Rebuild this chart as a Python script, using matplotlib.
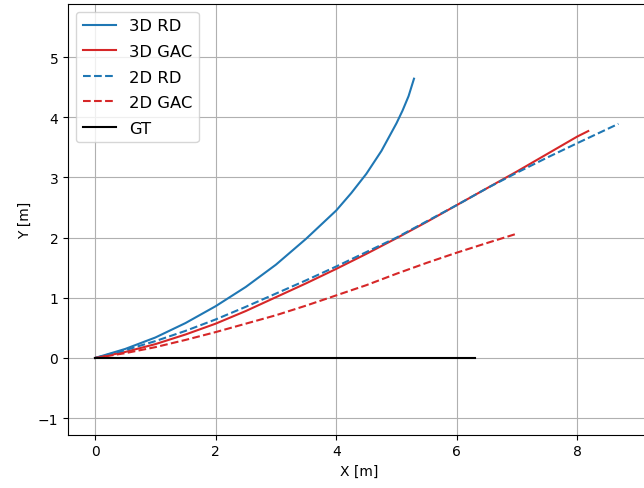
import matplotlib
matplotlib.use("Agg")
import matplotlib.pyplot as plt

# trajectories (x, y in metres)
rd3d_x = [0, 0.5, 1.0, 1.5, 2.0, 2.5, 3.0, 3.5, 4.0, 4.25, 4.5, 4.75, 5.0, 5.1, 5.2, 5.29]
rd3d_y = [0, 0.15, 0.34, 0.58, 0.86, 1.18, 1.55, 1.98, 2.45, 2.74, 3.06, 3.44, 3.90, 4.11, 4.35, 4.64]

gac3d_x = [0, 0.5, 1.0, 1.5, 2.0, 2.5, 3.0, 3.5, 4.0, 4.5, 5.0, 5.5, 6.0, 6.5, 7.0, 7.5, 8.0, 8.18]
gac3d_y = [0, 0.10, 0.23, 0.39, 0.57, 0.78, 1.01, 1.24, 1.48, 1.73, 1.99, 2.26, 2.54, 2.82, 3.10, 3.39, 3.68, 3.77]

rd2d_x = [0, 0.5, 1.0, 1.5, 2.0, 2.5, 3.0, 3.5, 4.0, 4.5, 5.0, 5.5, 6.0, 6.5, 7.0, 7.5, 8.0, 8.68]
rd2d_y = [0, 0.13, 0.28, 0.45, 0.64, 0.85, 1.07, 1.29, 1.52, 1.76, 2.00, 2.27, 2.54, 2.82, 3.08, 3.33, 3.57, 3.89]

gac2d_x = [0, 0.5, 1.0, 1.5, 2.0, 2.5, 3.0, 3.5, 4.0, 4.5, 5.0, 5.5, 6.0, 6.5, 6.98]
gac2d_y = [0, 0.08, 0.18, 0.30, 0.43, 0.57, 0.71, 0.87, 1.04, 1.21, 1.40, 1.58, 1.75, 1.91, 2.06]

gt_x = [0, 6.3]
gt_y = [0, 0]

fig = plt.figure(figsize=(6.44, 4.89), dpi=100)
# axes run off the right edge like in the cropped original
ax = fig.add_axes([68 / 644, 53.5 / 489, 582 / 644, 431 / 489])

ax.plot(rd3d_x, rd3d_y, color="tab:blue", label="3D RD")
ax.plot(gac3d_x, gac3d_y, color="tab:red", label="3D GAC")
ax.plot(rd2d_x, rd2d_y, color="tab:blue", linestyle="--", label="2D RD")
ax.plot(gac2d_x, gac2d_y, color="tab:red", linestyle="--", label="2D GAC")
ax.plot(gt_x, gt_y, color="black", label="GT")

ax.set_xlim(-0.448, 9.204)
ax.set_ylim(-1.271, 5.889)
ax.set_xticks([0, 2, 4, 6, 8])
ax.set_yticks([-1, 0, 1, 2, 3, 4, 5])
ax.set_xlabel("X [m]")
ax.set_ylabel("Y [m]")
ax.grid(True)
ax.legend(loc="upper left", fontsize=11.8, labelspacing=0.65)

fig.savefig("out.png", dpi=100)
